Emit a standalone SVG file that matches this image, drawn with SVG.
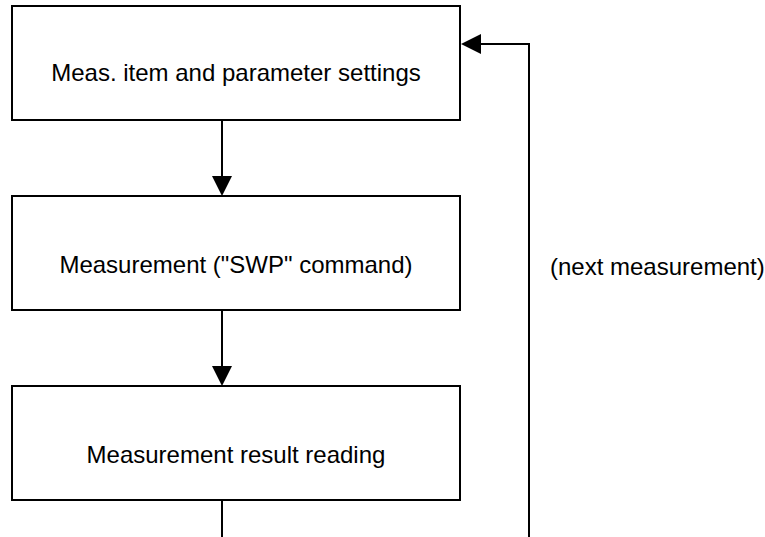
<svg xmlns="http://www.w3.org/2000/svg" width="765" height="537" viewBox="0 0 765 537">
<style>
.box{fill:#fff;stroke:#000;stroke-width:2}
.lbl{font-family:"Liberation Sans",Arial,sans-serif;font-size:24px;fill:#000}
.ln{fill:none;stroke:#000;stroke-width:2}
.ah{fill:#000;stroke:none}
</style>
<rect width="765" height="537" fill="#fff"/>
<g id="node-settings">
<rect class="box" x="12" y="6" width="448" height="114"/>
<text class="lbl" x="236" y="81" text-anchor="middle">Meas. item and parameter settings</text>
</g>
<g id="node-measurement">
<rect class="box" x="12" y="196" width="448" height="114"/>
<text class="lbl" x="236" y="273" text-anchor="middle">Measurement ("SWP" command)</text>
</g>
<g id="node-reading">
<rect class="box" x="12" y="386" width="448" height="114"/>
<text class="lbl" x="236" y="463" text-anchor="middle">Measurement result reading</text>
</g>
<g id="connectors">
<line class="ln" x1="222" y1="120" x2="222" y2="177"/>
<polygon class="ah" points="212,176 232,176 222,196"/>
<line class="ln" x1="222" y1="310" x2="222" y2="367"/>
<polygon class="ah" points="212,366 232,366 222,386"/>
<polyline class="ln" points="222,500 222,537"/>
<polyline class="ln" points="529,537 529,44 480,44"/>
<polygon class="ah" points="481,34 481,54 461,44"/>
<text class="lbl" x="550" y="275">(next measurement)</text>
</g>
</svg>
